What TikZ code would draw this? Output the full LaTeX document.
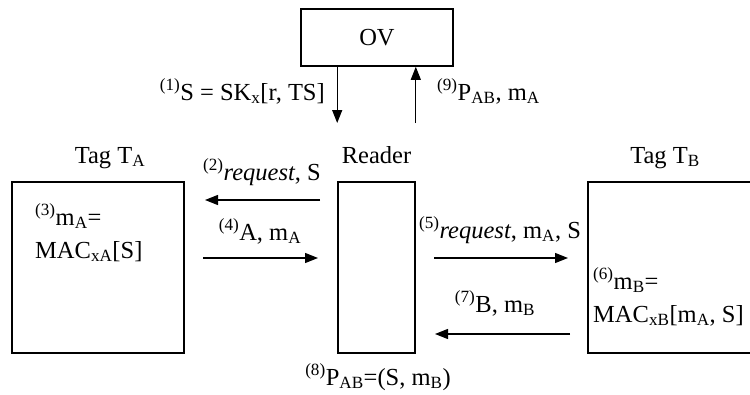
\documentclass[tikz,border=0pt]{standalone}
\usepackage{fontspec}
\setmainfont{Liberation Serif}
\usetikzlibrary{arrows.meta,positioning}

\begin{document}
\begin{tikzpicture}[
    x=1pt,y=-1pt,
    font=\fontsize{24.5}{33}\selectfont,
    box/.style={draw,line width=1.6pt,inner sep=0pt,minimum height=171pt},
    arr/.style={-{Triangle[length=13pt,width=10pt]},line width=1.2pt},
    lbl/.style={inner sep=0pt,anchor=base}
  ]
    \useasboundingbox (0,0) rectangle (750,394);
    \clip (0,0) rectangle (750,394);
    % parties
    \node[box,minimum width=152pt,minimum height=57pt] (ov) at (377,37.5) {OV};
    \node[box,minimum width=172pt] (tagA) at (98,267.5) {};
    \node[box,minimum width=77pt] (reader) at (376.5,267.5) {};
    \node[box,minimum width=177pt] (tagB) at (676.5,267.5) {};
    \node[lbl] (tagAname) at (110,163) {Tag T\textsubscript{A}};
    \node[lbl] (readername) at (reader.center |- tagAname.base) {Reader};
    \node[lbl] (tagBname) at (665,163) {Tag T\textsubscript{B}};
    % free arrow ends
    \coordinate (ovout) at (ov.south -| reader.west);
    \coordinate (ovin) at (ov.south -| reader.east);
    \coordinate (rdin) at (reader.west |- 0,123);
    \coordinate (rdout) at (reader.east |- 0,123);
    \coordinate (req1s) at (320,200);
    \coordinate (req1e) at (205,200);
    \coordinate (resAs) at (203,258);
    \coordinate (resAe) at (318,258);
    \coordinate (req2s) at (434,258);
    \coordinate (req2e) at (568,258);
    \coordinate (resBs) at (570,334);
    \coordinate (resBe) at (435,334);
    % messages
    \draw[arr] (ovout) -- (rdin);
    \draw[arr] (rdout) -- (ovin);
    \draw[arr] (req1s) -- (req1e);
    \draw[arr] (resAs) -- (resAe);
    \draw[arr] (req2s) -- (req2e);
    \draw[arr] (resBs) -- (resBe);
    % labels
    \node[lbl,anchor=base east] (l1) at (325,100) {\textsuperscript{(1)}S = SK\textsubscript{x}[r, TS]};
    \node[lbl,anchor=base west] (l9) at (437,100) {\textsuperscript{(9)}P\textsubscript{AB}, m\textsubscript{A}};
    \node[lbl] (l2) at (262,180) {\textsuperscript{(2)}\textit{request}, S};
    \node[lbl] (l4) at (260,240) {\textsuperscript{(4)}A, m\textsubscript{A}};
    \node[lbl] (l5) at (500,238) {\textsuperscript{(5)}\textit{request}, m\textsubscript{A}, S};
    \node[lbl] (l7) at (495,312) {\textsuperscript{(7)}B, m\textsubscript{B}};
    \node[lbl] (l8) at (378,385) {\textsuperscript{(8)}P\textsubscript{AB}=(S, m\textsubscript{B})};
    \node[lbl,anchor=base west,align=left] (l3) at (35,258) {\textsuperscript{(3)}m\textsubscript{A}=\\MAC\textsubscript{xA}[S]};
    \node[lbl,anchor=base west,align=left] (l6) at (593,322) {\textsuperscript{(6)}m\textsubscript{B}=\\MAC\textsubscript{xB}[m\textsubscript{A}, S]};
  \end{tikzpicture}
\end{document}
